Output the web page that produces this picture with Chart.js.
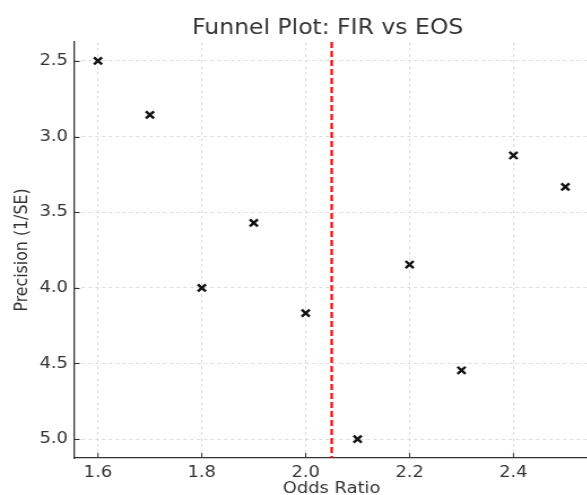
<!DOCTYPE html>
<html><head><meta charset="utf-8">
<script src="https://cdn.jsdelivr.net/npm/chart.js@4"></script>
<style>
html,body{margin:0;padding:0;overflow:hidden;background:#fff}
#wrap{width:587px;height:495px;overflow:hidden;position:relative}
#c{position:absolute;left:0;top:0;transform:scaleX(1.13);transform-origin:0 0}
</style>
</head><body><div id="wrap"><canvas id="c" width="532" height="495"></canvas></div>
<script>
const oddsRatios = [1.6, 1.7, 1.8, 1.9, 2.0, 2.1, 2.2, 2.3, 2.4, 2.5];
const precision = [2.5, 2.857, 4.0, 3.571, 4.167, 5.0, 3.846, 4.545, 3.125, 3.333];
const meanOddsRatio = 2.05;
const xTicks = [1.6, 1.8, 2.0, 2.2, 2.4];
const yTicks = [2.5, 3.0, 3.5, 4.0, 4.5, 5.0];
const xRange = [1.555, 2.545];
const yRange = [2.375, 5.125];
const titleText = 'Funnel Plot: FIR vs EOS';
const xLabel = 'Odds Ratio';
const yLabel = 'Precision (1/SE)';

const FONT = "'DejaVu Sans', sans-serif";
const points = oddsRatios.map((x, i) => ({x: x, y: precision[i]}));
const refLine = [{x: meanOddsRatio, y: yRange[0]}, {x: meanOddsRatio, y: yRange[1]}];

const extras = {
  id: 'extras',
  beforeDatasetsDraw(chart) {
    const ctx = chart.ctx, a = chart.chartArea;
    const xs = chart.scales.x, ys = chart.scales.y;
    ctx.save();
    ctx.strokeStyle = '#333';
    ctx.lineWidth = 1;
    xTicks.forEach(v => {
      const px = xs.getPixelForValue(v);
      ctx.beginPath(); ctx.moveTo(px, a.bottom); ctx.lineTo(px, a.bottom - 5); ctx.stroke();
    });
    yTicks.forEach(v => {
      const py = Math.round(ys.getPixelForValue(v)) + 0.5;
      ctx.beginPath(); ctx.moveTo(a.left, py); ctx.lineTo(a.left + 4.5, py); ctx.stroke();
    });
    ctx.restore();
  },
  afterDraw(chart) {
    const ctx = chart.ctx, a = chart.chartArea;
    ctx.save();
    ctx.fillStyle = '#333';
    ctx.font = '20.8px ' + FONT;
    ctx.textAlign = 'center';
    ctx.textBaseline = 'middle';
    ctx.fillText(titleText, (a.left + a.right) / 2 - 3.5, 29);
    ctx.restore();
  }
};

new Chart(document.getElementById('c'), {
  type: 'scatter',
  data: {
    datasets: [
      {
        type: 'line',
        data: refLine,
        borderColor: '#ff0000',
        borderWidth: 2.2,
        borderDash: [6, 3],
        pointRadius: 0,
        fill: false,
        order: 0
      },
      {
        data: points,
        pointStyle: 'crossRot',
        pointRadius: 5,
        pointHoverRadius: 5,
        borderColor: '#111',
        backgroundColor: '#111',
        borderWidth: 2.4,
        order: 1
      }
    ]
  },
  options: {
    responsive: false,
    devicePixelRatio: 1,
    animation: false,
    layout: {padding: {top: 42, right: 11, left: 0, bottom: 0}},
    plugins: {legend: {display: false}, tooltip: {enabled: false}, title: {display: false}},
    scales: {
      x: {
        type: 'linear',
        min: xRange[0], max: xRange[1],
        afterBuildTicks: s => { s.ticks = xTicks.map(v => ({value: v})); },
        afterFit: s => { s.height = 37; },
        ticks: {
          padding: 5, color: '#333', font: {family: FONT, size: 15.8},
          callback: v => Number(v).toFixed(1), maxRotation: 0
        },
        grid: {color: '#dcdcdc', lineWidth: 1, drawTicks: false},
        border: {display: true, color: '#333', width: 1.3, dash: [3, 3]},
        title: {display: true, text: xLabel, color: '#333', font: {family: FONT, size: 15.8, lineHeight: 1}, padding: {top: 0, bottom: -2}}
      },
      y: {
        type: 'linear',
        reverse: true,
        min: yRange[0], max: yRange[1],
        afterBuildTicks: s => { s.ticks = yTicks.map(v => ({value: v})); },
        afterFit: s => { s.width = 66; },
        ticks: {
          padding: 6, color: '#333', font: {family: FONT, size: 15.8},
          callback: v => Number(v).toFixed(1)
        },
        grid: {color: '#dcdcdc', lineWidth: 1, drawTicks: false},
        border: {display: true, color: '#333', width: 1.3, dash: [3, 3]},
        title: {display: true, text: yLabel, color: '#333', font: {family: FONT, size: 15.8}, padding: {top: 10, bottom: 0}}
      }
    }
  },
  plugins: [extras]
});
</script></body></html>
